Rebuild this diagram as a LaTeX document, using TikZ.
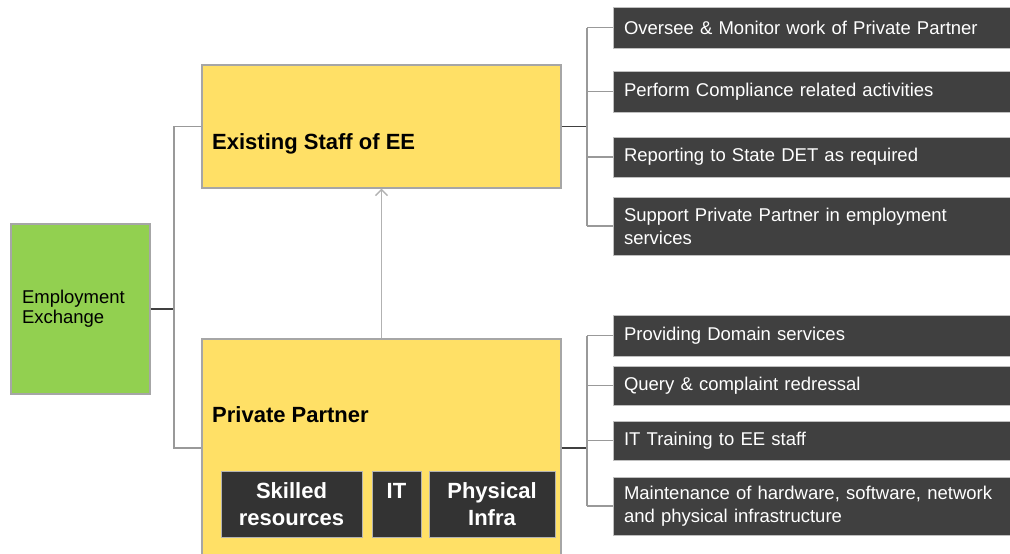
\documentclass[tikz,border=0pt]{standalone}
\usepackage{fontspec}
\setmainfont{Liberation Sans}
\usepackage{xcolor}
\usetikzlibrary{arrows.meta}
\definecolor{boxyellow}{HTML}{FFE066}
\definecolor{boxgreen}{HTML}{92D050}
\definecolor{boxdark}{HTML}{404040}
\definecolor{innerdark}{HTML}{333333}

\begin{document}
\begin{tikzpicture}[
    x=1pt, y=-1pt,
    every node/.style={inner sep=0pt},
    yellowbox/.style={rectangle, draw=black!35, line width=1.2pt,
                      fill=boxyellow, minimum width=359pt},
    greenbox/.style={rectangle, draw=black!35, line width=1.2pt,
                     fill=boxgreen, minimum height=170pt,
                     inner xsep=11pt, text width=117pt, align=left,
                     font=\fontsize{18.5}{20}\selectfont},
    headtext/.style={anchor=base west,
                     font=\fontsize{22}{26}\selectfont\bfseries},
    taskbox/.style={rectangle, draw=black!25, line width=1pt,
                    fill=boxdark, text=white,
                    inner xsep=11pt, text width=385pt, align=left,
                    font=\fontsize{18.5}{23}\selectfont},
    resbox/.style={rectangle, draw=black!30, line width=1pt,
                   fill=innerdark, text=white, minimum height=66pt,
                   align=center,
                   font=\fontsize{22}{27}\selectfont\bfseries},
    stub/.style={black!75, line width=1.5pt},
    branch/.style={black!40, line width=1.5pt}
]
\useasboundingbox (0,0) rectangle (1010,554);

\node[greenbox] (ee) at (80.5,309) {Employment\\Exchange};
\node[yellowbox, minimum height=123pt] (staff) at (381.5,126.5) {};
\node[yellowbox, minimum height=218pt] (partner) at (381.5,448) {};
\node[headtext] (staff-name) at (212,149) {Existing Staff of EE};
\node[headtext] (partner-name) at (212,422) {Private Partner};

\node[resbox, minimum width=141pt] (skilled) at (291.5,504) {Skilled\\resources};
\node[resbox, minimum width=49pt] (it) at (396.5,504) {IT\\\phantom{I}};
\node[resbox, minimum width=126pt] (infra) at (492,504) {Physical\\Infra};

\node[taskbox, minimum height=41pt] (oversee) at (816.5,27.5) {Oversee \& Monitor work of Private Partner};
\node[taskbox, minimum height=41pt] (comply) at (816.5,91.5) {Perform Compliance related activities};
\node[taskbox, minimum height=40pt] (report) at (816.5,157) {Reporting to State DET as required};
\node[taskbox, minimum height=58pt] (support) at (816.5,226) {Support Private Partner in employment\\services};

\node[taskbox, minimum height=41pt] (domain) at (816.5,335.5) {Providing Domain services};
\node[taskbox, minimum height=39pt] (query) at (816.5,385.5) {Query \& complaint redressal};
\node[taskbox, minimum height=39pt] (training) at (816.5,440.5) {IT Training to EE staff};
\node[taskbox, minimum height=58pt] (upkeep) at (816.5,506) {Maintenance of hardware, software, network\\and physical infrastructure};

\coordinate (ltrunk) at (174,309);
\coordinate (rtrunk) at (587,127);

\draw[stub] (ee.east) -- (ltrunk);
\draw[branch] (staff.west) -| (ltrunk) |- (partner.west);

\draw[stub] (staff.east) -- (staff.east -| rtrunk);
\draw[branch] (rtrunk |- oversee.west) -- (rtrunk |- support.west);
\foreach \task in {oversee, comply, report, support}
    \draw[branch] (rtrunk |- \task.west) -- (\task.west);

\draw[stub] (partner.east) -- (partner.east -| rtrunk);
\draw[branch] (rtrunk |- domain.west) -- (rtrunk |- upkeep.west);
\foreach \task in {domain, query, training, upkeep}
    \draw[branch] (rtrunk |- \task.west) -- (\task.west);

\draw[-{Straight Barb[length=6pt, width=12pt]}, line width=1.5pt, black!30] (partner) -- (staff);
\end{tikzpicture}
\end{document}
